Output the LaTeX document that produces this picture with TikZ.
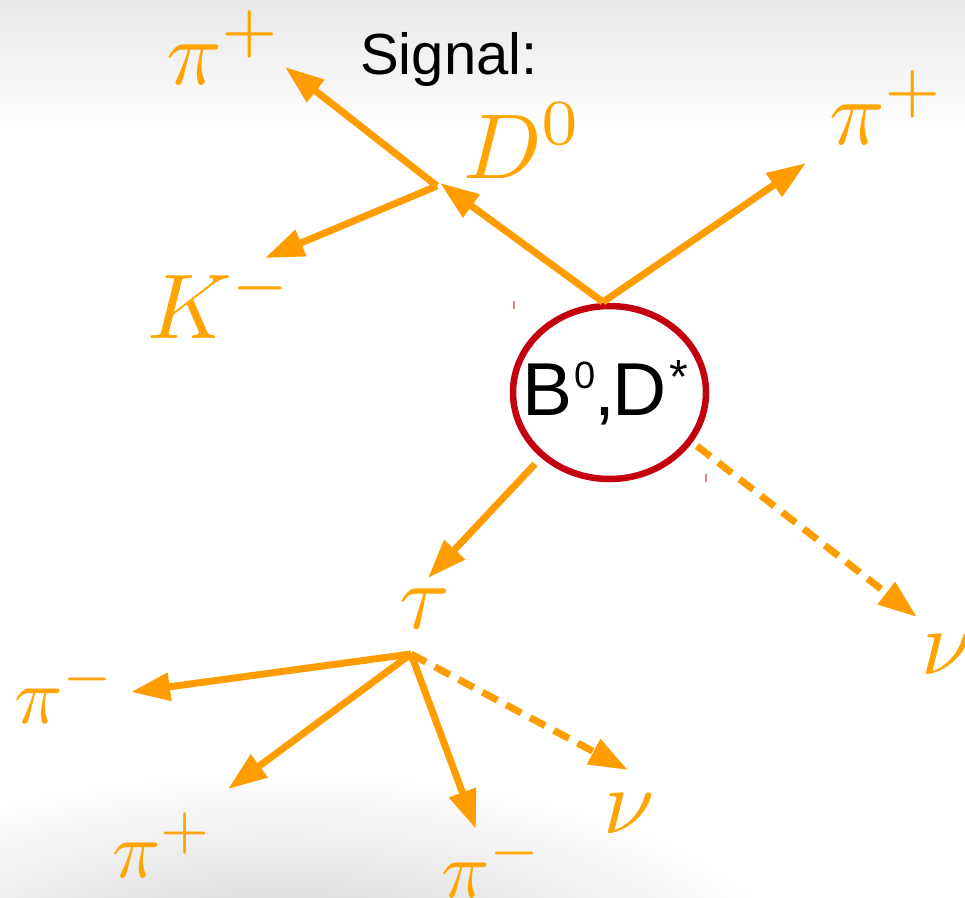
\documentclass[tikz,border=0pt]{standalone}
\usepackage[no-math]{fontspec}
\usepackage{graphicx}
\usetikzlibrary{arrows.meta,shapes.geometric}
\newfontfamily\sansf{Liberation Sans}
\definecolor{arrc}{HTML}{FF9C00}
\definecolor{txtc}{HTML}{FFA400}
\definecolor{redc}{HTML}{C4000E}
\definecolor{tickc}{HTML}{E88080}
\definecolor{bgtop}{HTML}{E8E8E8}
\begin{document}
\begin{tikzpicture}[x=1pt,y=-1pt,
  arr/.style={draw=arrc, line width=7pt, -{Triangle[length=39pt,width=27pt]}},
  dsh/.style={arr, dash pattern=on 17pt off 10pt},
  lbl/.style={text=txtc, inner sep=0pt, anchor=base west},
  ring/.style={draw=redc, line width=6.5pt, ellipse, inner sep=0pt, minimum width=193pt, minimum height=173pt},
  blk/.style={text=black, inner sep=0pt, anchor=base west},
  tickm/.style={draw=tickc, line width=1.5pt}]
\useasboundingbox (0,0) rectangle (965,897);
% background
\begin{scope}
  \clip (0,0) rectangle (965,897);
  \shade[inner color=gray!38, outer color=white] (280,975) ellipse [x radius=520, y radius=205];
\end{scope}
\shade[top color=bgtop, bottom color=white] (0,0) rectangle (965,132);

% title
\node[blk] (title) at (360,74) {\sansf\fontsize{58}{62}\selectfont Signal:};

% central B node
\node[ring] (B) at (609.5,392.5) {};
\node[blk] (Btxt) at (522.5,415) {\sansf\fontsize{75}{80}\selectfont B\kern2pt\raisebox{27pt}{\fontsize{38}{38}\selectfont 0}\kern-1pt,\kern-3pt D\kern3pt\raisebox{22pt}{\fontsize{48}{48}\selectfont *}};

% labels
\node[lbl] (piTL) at (166,84) {\scalebox{9.2}{$\pi^+$}};
\node[lbl] (D0) at (463,178) {\scalebox{9.2}{$D^0$}};
\node[lbl] (piTR) at (829,144) {\scalebox{9.2}{$\pi^+$}};
\node[lbl] (Km) at (147,338) {\scalebox{9.2}{$K^-$}};
\node[lbl] (tau) at (399,628) {\scalebox{9.2}{$\tau$}};
\node[lbl] (nuR) at (921,674) {\scalebox{9.2}{$\nu$}};
\node[lbl] (piL) at (14,723) {\scalebox{8.0}{$\pi^-$}};
\node[lbl] (piBL) at (112,877) {\scalebox{8.0}{$\pi^+$}};
\node[lbl] (piB) at (441,897) {\scalebox{8.0}{$\pi^-$}};
\node[lbl] (nuB) at (603,833) {\scalebox{9.2}{$\nu$}};

% vertices and tips
\coordinate (vB) at (603,302);
\coordinate (vD) at (437,186);
\coordinate (vT) at (411,654);
\coordinate (sT) at (535,464);
\coordinate (sN) at (697,446);
\coordinate (tPiTR) at (806,163);
\coordinate (tD) at (440,183);
\coordinate (tPiTL) at (285,67);
\coordinate (tK) at (265,258);
\coordinate (tT) at (428,578);
\coordinate (tNuR) at (917,617);
\coordinate (tPiL) at (131,692);
\coordinate (tPiBL) at (228,789);
\coordinate (tPiB) at (476,829);
\coordinate (tNuB) at (628,770);

% connectors
\draw[arr] (vB) -- (tPiTR);
\draw[arr] (vB) -- (tD);
\draw[arr] (vD) -- (tPiTL);
\draw[arr] (vD) -- (tK);
\draw[arr] (sT) -- (tT);
\draw[dsh] (sN) -- (tNuR);
\draw[arr] (vT) -- (tPiL);
\draw[arr] (vT) -- (tPiBL);
\draw[arr] (vT) -- (tPiB);
\draw[dsh] (vT) -- (tNuB);

% small marks
\coordinate (m1a) at (514,301);
\coordinate (m1b) at (514,309);
\coordinate (m2a) at (706,474);
\coordinate (m2b) at (706,482);
\draw[tickm] (m1a) -- (m1b);
\draw[tickm] (m2a) -- (m2b);
\end{tikzpicture}
\end{document}
